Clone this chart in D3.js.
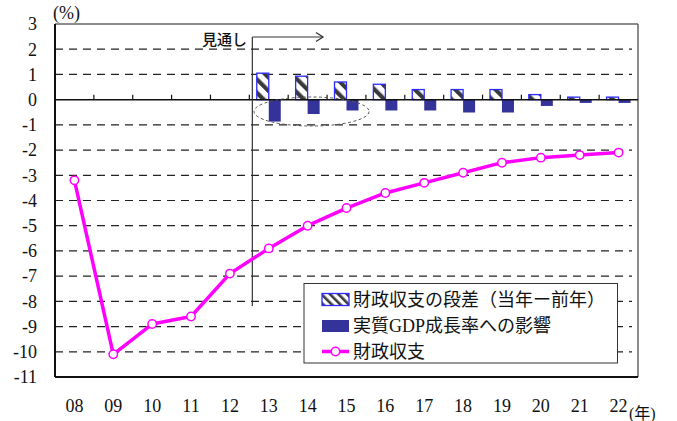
<!DOCTYPE html>
<html>
<head>
<meta charset="utf-8">
<script src="https://cdn.jsdelivr.net/npm/d3@7"></script>
<style>
  html, body { margin: 0; padding: 0; background: #fff; }
  svg text { font-family: "Liberation Serif", "Times New Roman", "Noto Sans CJK JP", serif; }
</style>
</head>
<body>
<svg id="chart" width="677" height="421"></svg>
<script>
// Years (20XX)
const years = ["08","09","10","11","12","13","14","15","16","17","18","19","20","21","22"];
// 財政収支 (% of GDP)
const balance = [-3.2, -10.1, -8.9, -8.6, -6.9, -5.9, -5.0, -4.3, -3.7, -3.3, -2.9, -2.5, -2.3, -2.2, -2.1];
// Projection years for the bar pairs
const projYears = ["13","14","15","16","17","18","19","20","21","22"];
// 財政収支の段差（当年ー前年）
const balanceStep = [1.05, 0.93, 0.70, 0.61, 0.40, 0.40, 0.40, 0.20, 0.10, 0.10];
// 実質GDP成長率への影響
const gdpImpact = [-0.87, -0.57, -0.43, -0.43, -0.43, -0.51, -0.51, -0.25, -0.13, -0.13];
const yTicks = [3, 2, 1, 0, -1, -2, -3, -4, -5, -6, -7, -8, -9, -10, -11];
const legendLabels = ["財政収支の段差（当年ー前年）", "実質GDP成長率への影響", "財政収支"];

const svg = d3.select("#chart");
const L = 55, R = 638, T = 24, B = 377;

const x = d3.scaleBand().domain(years).range([L, R]).padding(0);
const y = d3.scaleLinear().domain([-11, 3]).range([B, T]);
const pair = d3.scaleBand().domain(["step", "gdp"]).range([-12, 12]);
const cx = d => x(d) + x.bandwidth() / 2;

// hatch patterns
const defs = svg.append("defs");
function hatch(id, size, w) {
  const p = defs.append("pattern").attr("id", id)
    .attr("patternUnits", "userSpaceOnUse")
    .attr("width", size).attr("height", size)
    .attr("patternTransform", "rotate(-45)");
  p.append("rect").attr("width", size).attr("height", size).attr("fill", "#fff");
  p.append("rect").attr("x", 0).attr("width", w).attr("height", size).attr("fill", "#3a3a3a");
}
hatch("hatchBar", 9.5, 4.2);
hatch("hatchLegend", 6, 2.6);

// dashed grid lines
const grid = yTicks.filter(v => v !== 0 && v !== 3 && v !== -11);
svg.append("g").selectAll("line").data(grid).join("line")
  .attr("x1", L).attr("x2", R - 6)
  .attr("y1", d => y(d)).attr("y2", d => y(d))
  .attr("stroke", "#222").attr("stroke-width", 1.2)
  .attr("stroke-dasharray", "8,6");

// frame
svg.append("line").attr("x1", L).attr("x2", R).attr("y1", T).attr("y2", T)
  .attr("stroke", "#666").attr("stroke-width", 1.5);
svg.append("line").attr("x1", R).attr("x2", R).attr("y1", T).attr("y2", B)
  .attr("stroke", "#666").attr("stroke-width", 1.5);
svg.append("line").attr("x1", L).attr("x2", R).attr("y1", B).attr("y2", B)
  .attr("stroke", "#111").attr("stroke-width", 2);
svg.append("line").attr("x1", L).attr("x2", L).attr("y1", T).attr("y2", B)
  .attr("stroke", "#111").attr("stroke-width", 2);

// y labels
svg.append("g").selectAll("text").data(yTicks).join("text")
  .attr("x", 37).attr("y", d => y(d)).attr("dy", "0.35em")
  .attr("text-anchor", "end").attr("font-size", 18).attr("fill", "#111")
  .text(d => d);
svg.append("text").attr("x", 53).attr("y", 19).attr("font-size", 18).attr("fill", "#111").text("(%)");

// x labels
svg.append("g").selectAll("text").data(years).join("text")
  .attr("x", d => cx(d)).attr("y", 412)
  .attr("text-anchor", "middle").attr("font-size", 18).attr("fill", "#111")
  .text(d => d);
svg.append("text").attr("x", 629).attr("y", 419).attr("font-size", 16).attr("fill", "#111").text("(年)");

// bars
svg.append("g").selectAll("rect").data(projYears.map((d, i) => ({ yr: d, v: balanceStep[i] }))).join("rect")
  .attr("x", d => cx(d.yr) + pair("step"))
  .attr("width", pair.bandwidth())
  .attr("y", d => y(Math.max(0, d.v)))
  .attr("height", d => Math.abs(y(d.v) - y(0)))
  .attr("fill", "url(#hatchBar)").attr("stroke", "#2b2bff").attr("stroke-width", 1.3);
svg.append("g").selectAll("rect").data(projYears.map((d, i) => ({ yr: d, v: gdpImpact[i] }))).join("rect")
  .attr("x", d => cx(d.yr) + pair("gdp"))
  .attr("width", pair.bandwidth())
  .attr("y", d => y(Math.max(0, d.v)))
  .attr("height", d => Math.abs(y(d.v) - y(0)))
  .attr("fill", "#333399");

// zero line with small upward ticks
svg.append("line").attr("x1", L).attr("x2", R).attr("y1", y(0)).attr("y2", y(0))
  .attr("stroke", "#111").attr("stroke-width", 1.5);
svg.append("g").selectAll("line").data(years.slice(1)).join("line")
  .attr("x1", d => x(d)).attr("x2", d => x(d))
  .attr("y1", y(0)).attr("y2", y(0) - 5)
  .attr("stroke", "#111").attr("stroke-width", 1.2);

// 見通し marker
const px = x("13") + 3;
svg.append("line").attr("x1", px).attr("x2", px).attr("y1", 37).attr("y2", 306)
  .attr("stroke", "#333").attr("stroke-width", 1.2);
svg.append("line").attr("x1", px).attr("x2", 323).attr("y1", 37).attr("y2", 37)
  .attr("stroke", "#333").attr("stroke-width", 1.2);
svg.append("path").attr("d", "M316,32.5 L323,37 L316,41.5")
  .attr("fill", "none").attr("stroke", "#333").attr("stroke-width", 1.3);
svg.append("text").attr("x", 247).attr("y", 45).attr("text-anchor", "end")
  .attr("font-size", 15).attr("font-weight", 500)
  .style("font-family", "'Noto Sans CJK JP', sans-serif").attr("fill", "#111").text("見通し");

// dashed ellipse around the GDP impact of 13-14
svg.append("ellipse")
  .attr("cx", 311.5).attr("cy", 111.5).attr("rx", 57.5).attr("ry", 14.5)
  .attr("fill", "none").attr("stroke", "#555").attr("stroke-width", 1)
  .attr("stroke-dasharray", "3,2.5");

// balance line
const line = d3.line().x((d, i) => cx(years[i])).y(d => y(d));
svg.append("path").datum(balance).attr("d", line)
  .attr("fill", "none").attr("stroke", "#ff00ff").attr("stroke-width", 3.5)
  .attr("stroke-linejoin", "round");
svg.append("g").selectAll("circle").data(balance).join("circle")
  .attr("cx", (d, i) => cx(years[i])).attr("cy", d => y(d)).attr("r", 4.2)
  .attr("fill", "#fff").attr("stroke", "#ff00ff").attr("stroke-width", 1.5);

// legend
const lg = svg.append("g");
lg.append("rect").attr("x", 304).attr("y", 283.5).attr("width", 313.5).attr("height", 79.5)
  .attr("fill", "#fff").attr("stroke", "#333").attr("stroke-width", 1);
lg.append("rect").attr("x", 322).attr("y", 293.5).attr("width", 27).attr("height", 12)
  .attr("fill", "url(#hatchLegend)").attr("stroke", "#2b2bff").attr("stroke-width", 1.3);
lg.append("rect").attr("x", 322).attr("y", 320).attr("width", 27).attr("height", 12)
  .attr("fill", "#333399");
lg.append("line").attr("x1", 322).attr("x2", 349).attr("y1", 351.5).attr("y2", 351.5)
  .attr("stroke", "#ff00ff").attr("stroke-width", 3.5);
lg.append("circle").attr("cx", 335.5).attr("cy", 351.5).attr("r", 4.2)
  .attr("fill", "#fff").attr("stroke", "#ff00ff").attr("stroke-width", 1.5);
lg.selectAll("text.lab").data(legendLabels).join("text").attr("class", "lab")
  .attr("x", 353).attr("y", (d, i) => [299.5, 326, 352][i]).attr("dy", "0.35em")
  .attr("font-size", 18).attr("fill", "#111").text(d => d);
</script>
</body>
</html>
